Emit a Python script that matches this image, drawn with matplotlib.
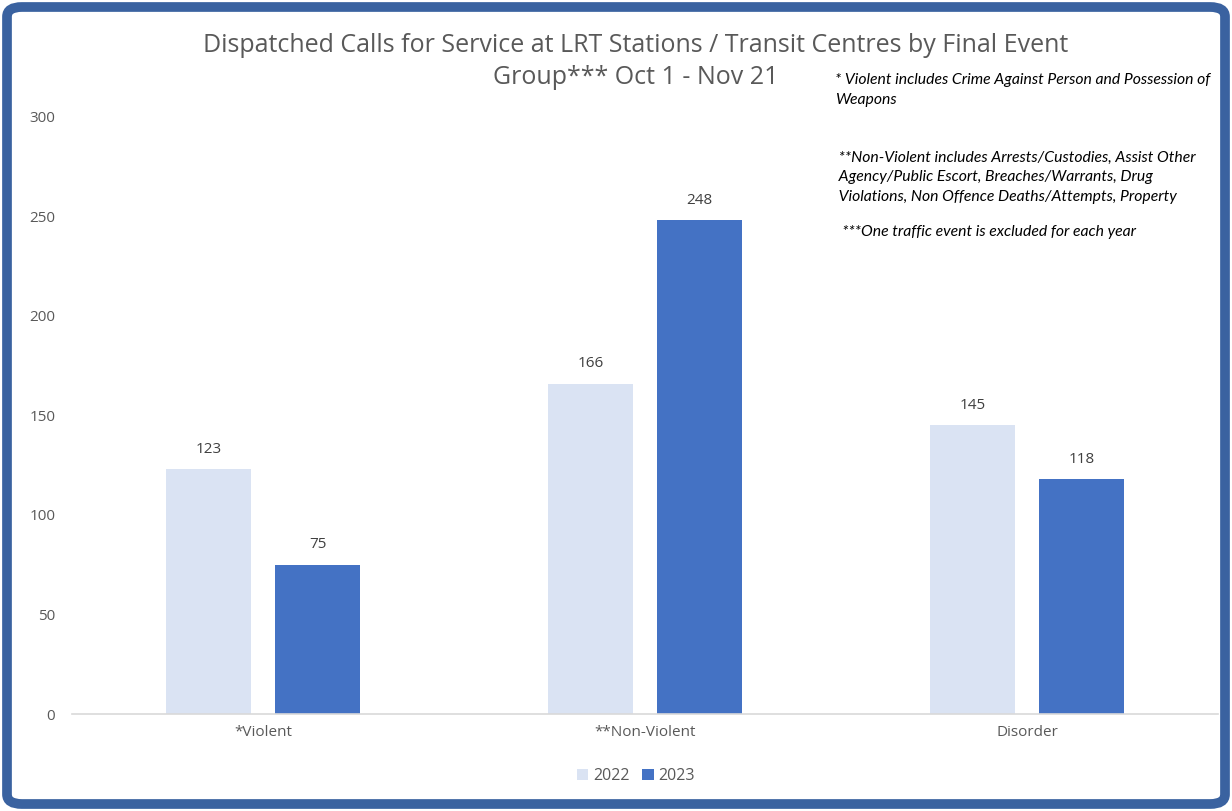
import matplotlib.pyplot as plt
from matplotlib.patches import FancyBboxPatch
import numpy as np

plt.rcParams['font.family'] = ['Open Sans', 'DejaVu Sans']

# data
categories = ['*Violent', '**Non-Violent', 'Disorder']
years = ['2022', '2023']
calls_2022 = [123, 166, 145]
calls_2023 = [75, 248, 118]
bar_colors = ['#dae3f3', '#4472c4']

title_lines = ["Dispatched Calls for Service at LRT Stations / Transit Centres by Final Event",
               "Group*** Oct 1 - Nov 21"]
notes = [
    "* Violent includes Crime Against Person and Possession of\nWeapons",
    " **Non-Violent includes Arrests/Custodies, Assist Other\n Agency/Public Escort, Breaches/Warrants, Drug\n Violations, Non Offence Deaths/Attempts, Property",
    "  ***One traffic event is excluded for each year",
]

fig = plt.figure(figsize=(12.32, 8.11), dpi=100)
W, H = 1232, 811
ax = fig.add_axes([72 / W, 1 - 714 / H, (1218 - 72) / W, (714 - 117) / H])

x = np.arange(len(categories))
width = 0.2225
offset = 0.143
b1 = ax.bar(x - offset, calls_2022, width, color=bar_colors[0], label=years[0])
b2 = ax.bar(x + offset, calls_2023, width, color=bar_colors[1], label=years[1])
for bars in (b1, b2):
    for b in bars:
        ax.annotate(str(int(b.get_height())), (b.get_x() + b.get_width() / 2, b.get_height()),
                    xytext=(0, 9), textcoords='offset points', ha='center', va='bottom',
                    fontsize=11, color='#404040')

ax.set_xlim(-0.5, 2.5)
ax.set_ylim(0, 300)
ax.set_yticks(range(0, 301, 50))
ax.set_xticks(x)
ax.set_xticklabels(categories)
ax.tick_params(length=0, labelsize=11, labelcolor='#595959')
ax.tick_params(axis='y', pad=12)
ax.tick_params(axis='x', pad=8)
for s in ['top', 'right', 'left']:
    ax.spines[s].set_visible(False)
ax.spines['bottom'].set_color('#d9d9d9')
ax.spines['bottom'].set_linewidth(1.2)

for ty, tl in zip([45, 78], title_lines):
    fig.text(636 / W, 1 - ty / H, tl, ha='center', va='center', fontsize=18, color='#595959')

note_y = [90, 177, 232]
for ny, nt in zip(note_y, notes):
    fig.text(835 / W, 1 - ny / H, nt, ha='left', va='center', fontsize=11.3,
             style='italic', color='black', family=['Lato', 'DejaVu Sans'], linespacing=1.5)

fig.legend(handles=[b1, b2], labels=years, loc='center', bbox_to_anchor=(636 / W, 1 - 776 / H),
           ncol=2, frameon=False, fontsize=11.5, handlelength=0.7, handleheight=0.7,
           handletextpad=0.3, columnspacing=0.8, labelcolor='#595959')

border = FancyBboxPatch((7 / W, 7 / H), 1 - 14 / W, 1 - 14 / H,
                        boxstyle='round,pad=0,rounding_size=0.012', transform=fig.transFigure,
                        fill=False, edgecolor='#3a62a0', linewidth=7)
fig.patches.append(border)

fig.savefig('out.png', dpi=100)
